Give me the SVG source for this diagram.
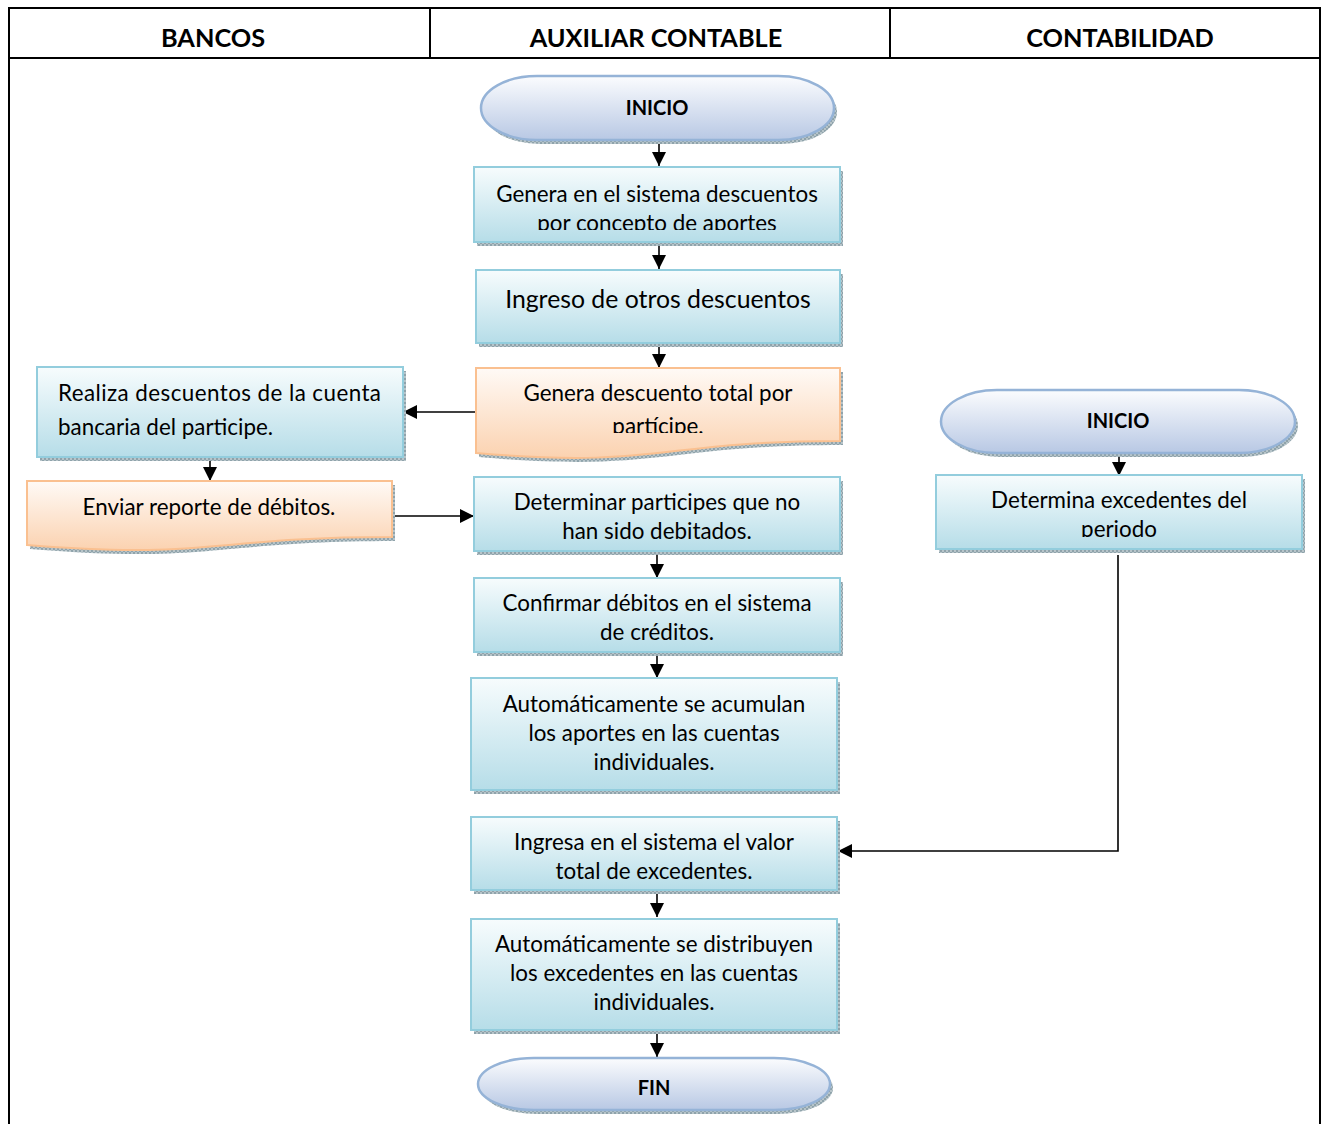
<svg xmlns="http://www.w3.org/2000/svg" width="1323" height="1124" viewBox="0 0 1323 1124">
  <style>
    .txt { font-family: Lato, "Liberation Sans", sans-serif; font-size: 22.4px; fill: #000; text-anchor: middle; }
    .big { font-size: 24.8px; }
    .left { text-anchor: start; }
    .bold { font-family: Lato, "Liberation Sans", sans-serif; font-weight: bold; fill: #000; text-anchor: middle; }
    .proc { fill: url(#gProc); stroke: #93cddd; stroke-width: 2; }
    .doc { fill: url(#gDoc); stroke: #fac090; stroke-width: 2; }
    .term { fill: url(#gTerm); stroke: #95b3d7; stroke-width: 2.5; }
    .shadow { fill: url(#hatch); }
    .frame { fill: none; stroke: #000; stroke-width: 2; }
    .conn { fill: none; stroke: #000; stroke-width: 1.6; marker-end: url(#arrow); }
  </style>
  <defs>
    <linearGradient id="gProc" x1="0" y1="0" x2="0" y2="1">
      <stop offset="0" stop-color="#f7fcfd"/>
      <stop offset="1" stop-color="#b6dde8"/>
    </linearGradient>
    <linearGradient id="gDoc" x1="0" y1="0" x2="0" y2="1">
      <stop offset="0" stop-color="#fffaf6"/>
      <stop offset="1" stop-color="#fbd2b0"/>
    </linearGradient>
    <linearGradient id="gTerm" x1="0" y1="0" x2="0" y2="1">
      <stop offset="0" stop-color="#fbfcfe"/>
      <stop offset="1" stop-color="#b8c8e4"/>
    </linearGradient>
    <pattern id="hatch" width="4" height="4" patternUnits="userSpaceOnUse">
      <rect width="4" height="4" fill="#8fa3ab"/>
      <rect width="2" height="2" fill="#b7c4c9"/>
      <rect x="2" y="2" width="2" height="2" fill="#b7c4c9"/>
    </pattern>
    <marker id="arrow" viewBox="0 0 10 10" refX="10" refY="5" markerWidth="14" markerHeight="14" markerUnits="userSpaceOnUse" orient="auto">
      <path d="M0,0 L10,5 L0,10 Z" fill="#000"/>
    </marker>
    <clipPath id="clipG1"><rect x="474" y="167" width="366" height="63"/></clipPath>
    <clipPath id="clipG2"><rect x="476" y="368" width="364" height="65"/></clipPath>
    <clipPath id="clipD"><rect x="936" y="475" width="366" height="62"/></clipPath>
    <path id="docA" d="M476,368 H840 V441 C658,441 658,469 476,453 Z"/>
    <path id="docB" d="M27,481 H392 V537 C210,537 210,560 27,545 Z"/>
  </defs>

  <rect width="1323" height="1124" fill="#fff"/>

  <!-- swimlane frame and headers -->
  <g id="lanes">
    <path class="frame" d="M9,1124 V8 H1320 V1124"/>
    <line class="frame" x1="9" y1="58" x2="1320" y2="58"/>
    <line class="frame" x1="430" y1="8" x2="430" y2="58"/>
    <line class="frame" x1="890" y1="8" x2="890" y2="58"/>
    <text class="bold" x="213" y="47" font-size="25.3">BANCOS</text>
    <text class="bold" x="656" y="47" font-size="25.3">AUXILIAR CONTABLE</text>
    <text class="bold" x="1120" y="47" font-size="25.3">CONTABILIDAD</text>
  </g>

  <!-- connectors -->
  <g id="connectors">
    <line class="conn" x1="659" y1="143" x2="659" y2="166"/>
    <line class="conn" x1="659" y1="246" x2="659" y2="269"/>
    <line class="conn" x1="659" y1="347" x2="659" y2="368"/>
    <line class="conn" x1="476" y1="412" x2="403" y2="412"/>
    <line class="conn" x1="210" y1="460" x2="210" y2="481"/>
    <line class="conn" x1="394" y1="516" x2="474" y2="516"/>
    <line class="conn" x1="657" y1="555" x2="657" y2="578"/>
    <line class="conn" x1="657" y1="656" x2="657" y2="678"/>
    <line class="conn" x1="657" y1="894" x2="657" y2="917"/>
    <line class="conn" x1="657" y1="1034" x2="657" y2="1057"/>
    <line class="conn" x1="1119" y1="456" x2="1119" y2="476"/>
    <polyline class="conn" stroke-width="2" points="1118,555 1118,851 838,851"/>
  </g>

  <!-- auxiliar contable -->
  <g id="inicio-aux">
    <rect class="shadow" x="484" y="80" width="353" height="64" rx="56" ry="32"/>
    <rect class="term" x="481" y="76" width="353" height="64" rx="56" ry="32"/>
    <text class="bold" x="657" y="115" font-size="20">INICIO</text>
  </g>

  <g id="genera-sistema">
    <rect class="shadow" x="477" y="171" width="366" height="75"/>
    <rect class="proc" x="474" y="167" width="366" height="75"/>
    <g clip-path="url(#clipG1)">
      <text class="txt" x="657" y="202">Genera en el sistema descuentos</text>
      <text class="txt" x="657" y="231">por concepto de aportes</text>
    </g>
  </g>

  <g id="ingreso-otros">
    <rect class="shadow" x="479" y="274" width="364" height="73"/>
    <rect class="proc" x="476" y="270" width="364" height="73"/>
    <text class="txt big" x="658" y="308">Ingreso de otros descuentos</text>
  </g>

  <g id="genera-total">
    <use href="#docA" class="shadow" transform="translate(3,4)"/>
    <use href="#docA" class="doc"/>
    <g clip-path="url(#clipG2)">
      <text class="txt" x="658" y="401">Genera descuento total por</text>
      <text class="txt" x="658" y="434">partícipe.</text>
    </g>
  </g>

  <g id="determinar">
    <rect class="shadow" x="477" y="481" width="366" height="74"/>
    <rect class="proc" x="474" y="477" width="366" height="74"/>
    <text class="txt" x="657" y="510">Determinar participes que no</text>
    <text class="txt" x="657" y="539">han sido debitados.</text>
  </g>

  <g id="confirmar">
    <rect class="shadow" x="477" y="582" width="366" height="74"/>
    <rect class="proc" x="474" y="578" width="366" height="74"/>
    <text class="txt" x="657" y="611">Confirmar débitos en el sistema</text>
    <text class="txt" x="657" y="640">de créditos.</text>
  </g>

  <g id="acumulan">
    <rect class="shadow" x="474" y="682" width="366" height="112"/>
    <rect class="proc" x="471" y="678" width="366" height="112"/>
    <text class="txt" x="654" y="712">Automáticamente se acumulan</text>
    <text class="txt" x="654" y="741">los aportes en las cuentas</text>
    <text class="txt" x="654" y="770">individuales.</text>
  </g>

  <g id="ingresa-excedentes">
    <rect class="shadow" x="474" y="821" width="366" height="73"/>
    <rect class="proc" x="471" y="817" width="366" height="73"/>
    <text class="txt" x="654" y="850">Ingresa en el sistema el valor</text>
    <text class="txt" x="654" y="879">total de excedentes.</text>
  </g>

  <g id="distribuyen">
    <rect class="shadow" x="474" y="923" width="366" height="111"/>
    <rect class="proc" x="471" y="919" width="366" height="111"/>
    <text class="txt" x="654" y="952">Automáticamente se distribuyen</text>
    <text class="txt" x="654" y="981">los excedentes en las cuentas</text>
    <text class="txt" x="654" y="1010">individuales.</text>
  </g>

  <g id="fin">
    <rect class="shadow" x="481" y="1062" width="352" height="52" rx="56" ry="26"/>
    <rect class="term" x="478" y="1058" width="352" height="52" rx="56" ry="26"/>
    <text class="bold" x="654" y="1095" font-size="20">FIN</text>
  </g>

  <!-- bancos -->
  <g id="realiza-descuentos">
    <rect class="shadow" x="40" y="371" width="366" height="90"/>
    <rect class="proc" x="37" y="367" width="366" height="90"/>
    <text class="txt left" x="58" y="401" textLength="323" lengthAdjust="spacing">Realiza descuentos de la cuenta</text>
    <text class="txt left" x="58" y="435">bancaria del participe.</text>
  </g>

  <g id="enviar-reporte">
    <use href="#docB" class="shadow" transform="translate(3,4)"/>
    <use href="#docB" class="doc"/>
    <text class="txt" x="209" y="515">Enviar reporte de débitos.</text>
  </g>

  <!-- contabilidad -->
  <g id="inicio-cont">
    <rect class="shadow" x="944" y="394" width="354" height="63" rx="56" ry="31.5"/>
    <rect class="term" x="941" y="390" width="354" height="63" rx="56" ry="31.5"/>
    <text class="bold" x="1118" y="428" font-size="20">INICIO</text>
  </g>

  <g id="determina-excedentes">
    <rect class="shadow" x="939" y="479" width="366" height="74"/>
    <rect class="proc" x="936" y="475" width="366" height="74"/>
    <g clip-path="url(#clipD)">
      <text class="txt" x="1119" y="508">Determina excedentes del</text>
      <text class="txt" x="1119" y="537">periodo</text>
    </g>
  </g>
</svg>
